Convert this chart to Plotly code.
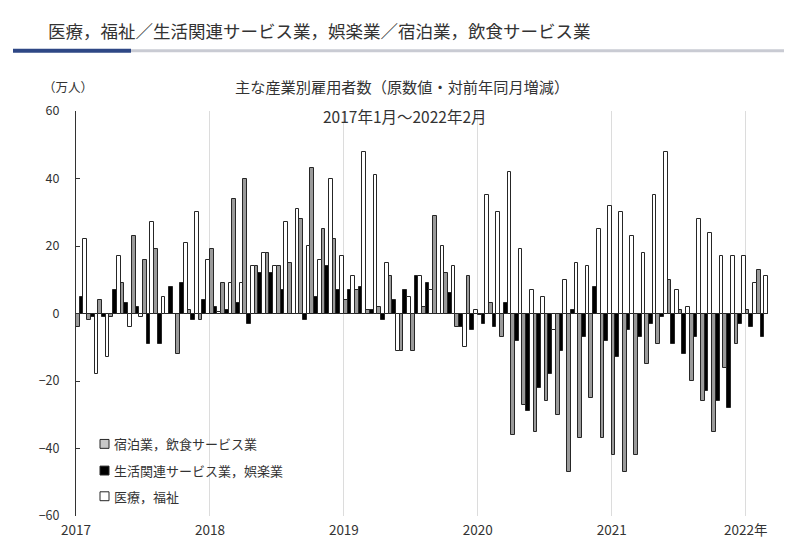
import plotly.graph_objects as go

# ---- data (万人, 対前年同月増減), 2017年1月～2022年2月 ----
months = list(range(62))
accom_food = [  # 宿泊業，飲食サービス業
    -4, -2, 4, -1, 9, 23, 16, 19, 0, -12, 1, -2,
    19, 9, 34, 40, 14, 18, 14, 15, 28, 43, 25, 22,
    4, 7, 1, 2, 11, -11, -11, 2, 29, 12, -4, 11,
    -0.5, 3, -7, -36, -27, -35, -26, -30, -47, -37, -25, -37,
    -42, -47, -42, -15, -9, 10, 1, -20, -26, -35, -16, -9,
    1, 13,
]
living_ent = [  # 生活関連サービス業，娯楽業
    5, -1, -1, 7, 3, 2, -9, -9, 8, 9, -2, 4,
    2, 1, 3, -3, 12, 12, 7, 0, -2, 5, 14, 7,
    7, 8, 1, -2, 4, 7, 11, 9, 0, 6, -4, -5,
    -3, -4, 3, -8, -29, -22, -18, -11, 1, -7, 8, -8,
    -13, -5, -7, -3, -1, -9, -12, -7, -23, -26, -28, -3,
    -4, -7,
]
medical = [  # 医療，福祉
    22, -18, -13, 17, -4, -1, 27, 5, 0, 21, 30, 16,
    0.5, 9, 9, 14, 18, 14, 27, 31, 20, 16, 40, 17,
    11, 48, 41, 15, -11, 5, 11, 7, 20, 14, -10, 1,
    35, 30, 42, 19, 7, 5, -5, 10, 15, 14, 25, 32,
    30, 23, 18, 35, 48, 7, 2, 28, 24, 17, 17, 17,
    9, 11,
]
series_names = ["宿泊業，飲食サービス業", "生活関連サービス業，娯楽業", "医療，福祉"]
year_ticks = [0, 12, 24, 36, 48, 60]
year_labels = ["2017", "2018", "2019", "2020", "2021", "2022年"]
y_ticks = [60, 40, 20, 0, -20, -40, -60]

FONT = "Noto Sans CJK JP"
TXT = "#333333"
fills = ["#9a9a9a", "#000000", "#ffffff"]

W, H = 792, 543
L, R, T, B = 68, 32, 103, 30
pw, ph = W - L - R, H - T - B


def px(x):
    return (x - L) / pw


def py(y):
    return (H - B - y) / ph


fig = go.Figure()
xpos = [m + 0.5 for m in months]
for name, vals, col in zip(series_names, [accom_food, living_ent, medical], fills):
    fig.add_trace(go.Bar(
        x=xpos, y=vals, name=name,
        marker=dict(color=col, line=dict(color="#262626", width=1)),
        showlegend=False, hoverinfo="x+y+name",
    ))

fig.update_layout(
    width=W, height=H,
    margin=dict(l=L, r=R, t=T, b=B),
    paper_bgcolor="white", plot_bgcolor="white",
    barmode="group", bargap=0, bargroupgap=0,
    font=dict(family=FONT, color=TXT, size=13),
)
fig.update_xaxes(
    range=[0, 62], tickmode="array", tickvals=year_ticks, ticktext=year_labels,
    showgrid=True, gridcolor="#dcdcdc", gridwidth=1,
    showline=False, zeroline=False, ticks="",
    tickfont=dict(size=13.5, color=TXT), ticklabelstandoff=4,
)
fig.update_yaxes(
    range=[-60, 60], tickmode="array", tickvals=y_ticks,
    showgrid=False, zeroline=True, zerolinecolor="#333333", zerolinewidth=1,
    showline=True, linecolor="#333333", linewidth=1,
    ticks="inside", ticklen=4, tickcolor="#333333",
    tickfont=dict(size=12.5, color=TXT), ticklabelstandoff=13,
)

shapes = [
    dict(type="rect", xref="paper", yref="paper", x0=px(5), x1=px(123), y0=py(44), y1=py(40),
         fillcolor="#2e4785", line=dict(width=0)),
    dict(type="rect", xref="paper", yref="paper", x0=px(123), x1=px(792), y0=py(43.5), y1=py(40.5),
         fillcolor="#c9cbd3", line=dict(width=0)),
]
annotations = [
    dict(text="医療，福祉／生活関連サービス業，娯楽業／宿泊業，飲食サービス業", x=px(38), y=py(21),
         xanchor="left", yanchor="middle", font=dict(size=17.5, color=TXT)),
    dict(text="（万人）", x=px(60), y=py(78), xanchor="center", yanchor="middle",
         font=dict(size=12.5, color=TXT)),
    dict(text="主な産業別雇用者数（原数値・対前年同月増減）", x=px(394), y=py(78),
         xanchor="center", yanchor="middle", font=dict(size=15.2, color=TXT)),
    dict(text="2017年1月～2022年2月", x=px(397), y=py(108), xanchor="center", yanchor="middle",
         font=dict(size=15.5, color=TXT)),
]
leg_y = [440, 467, 493]
for name, col, yy in zip(series_names, ["#c8c8c8", "#000000", "#ffffff"], leg_y):
    shapes.append(dict(type="rect", xref="paper", yref="paper",
                       x0=px(92), x1=px(101), y0=py(yy + 4.5), y1=py(yy - 4.5),
                       fillcolor=col, line=dict(color="#262626", width=1)))
    annotations.append(dict(text=name, x=px(104), y=py(yy), xanchor="left", yanchor="middle",
                            font=dict(size=13, color=TXT)))
for a in annotations:
    a.update(xref="paper", yref="paper", showarrow=False)
fig.update_layout(shapes=shapes, annotations=annotations)

fig.write_html("out.html")
